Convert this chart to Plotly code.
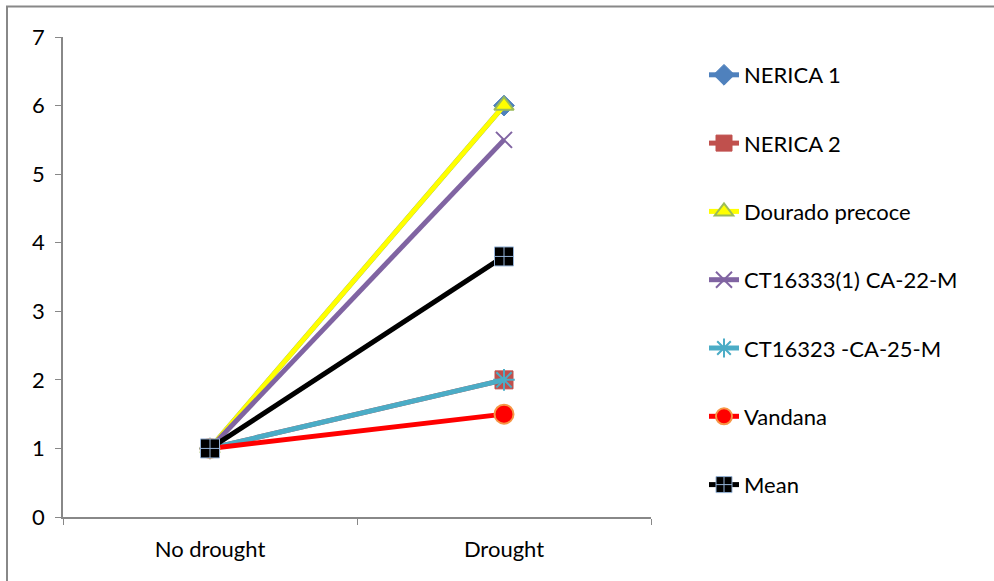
import plotly.graph_objects as go

categories = ["No drought", "Drought"]
series_names = ["NERICA 1", "NERICA 2", "Dourado precoce", "CT16333(1) CA-22-M",
                "CT16323 -CA-25-M", "Vandana", "Mean"]
nerica1 = [1, 6]
nerica2 = [1, 2]
dourado = [1, 6]
ct16333 = [1, 5.5]
ct16323 = [1, 2]
vandana = [1, 1.5]
mean = [1, 3.8]
y_ticks = [0, 1, 2, 3, 4, 5, 6, 7]

values = [nerica1, nerica2, dourado, ct16333, ct16323, vandana, mean]
line_colors = ["#4F81BD", "#C0504D", "#FFFF00", "#8064A2", "#4BACC6", "#FF0000", "#000000"]
markers = [
    dict(symbol="diamond", size=16, color="#4F81BD", line=dict(color="#4F81BD", width=1)),
    dict(symbol="square", size=18, color="#C0504D", line=dict(color="#C0504D", width=1)),
    dict(symbol="triangle-up", size=17, color="#FFFF00", line=dict(color="#9BBB59", width=2)),
    dict(symbol="x-thin-open", size=16, color="#8064A2", line=dict(color="#8064A2", width=2)),
    dict(symbol="asterisk-open", size=18, color="#4BACC6", line=dict(color="#4BACC6", width=2)),
    dict(symbol="circle", size=19, color="#FF0000", line=dict(color="#F79646", width=2)),
    dict(symbol="square-cross", size=19, color="#000000", line=dict(color="#95B3D7", width=1)),
]

FONT = "Lato, 'Open Sans', sans-serif"

fig = go.Figure()
for i, (name, vals) in enumerate(zip(series_names, values)):
    fig.add_trace(go.Scatter(
        x=categories, y=vals, name=name, mode="lines+markers",
        line=dict(color=line_colors[i], width=5),
        marker=markers[i], legendgroup=f"g{i}",
    ))

# plot area: x 63..651, y 37..517
L, R, T, B = 63, 994 - 651, 37, 581 - 517
pw, ph = 651 - 63, 517 - 37

def px_x(p):
    return (p - L) / pw

def px_y(p):
    return (517 - p) / ph

fig.update_layout(
    width=994, height=581,
    margin=dict(l=L, r=R, t=T, b=B),
    plot_bgcolor="white", paper_bgcolor="white",
    font=dict(family=FONT, size=22, color="#000000"),
    showlegend=True,
    legend=dict(
        x=px_x(704), y=px_y(54), xanchor="left", yanchor="top",
        font=dict(family=FONT, size=22, color="#000000"),
        tracegroupgap=36.7, bgcolor="rgba(0,0,0,0)",
    ),
    xaxis=dict(
        type="category", range=[-0.5, 1.5], showgrid=False,
        showline=True, linecolor="#888888", linewidth=1.5,
        ticks="outside", ticklen=6, tickcolor="#888888", tickson="boundaries",
        tickfont=dict(family=FONT, size=22), ticklabelstandoff=12,
    ),
    yaxis=dict(
        range=[0, 7], tickvals=y_ticks, showgrid=False, zeroline=False,
        showline=True, linecolor="#888888", linewidth=1.5,
        ticks="outside", ticklen=6, tickcolor="#888888",
        tickfont=dict(family=FONT, size=22), ticklabelstandoff=6,
    ),
    shapes=[dict(
        type="rect", xref="paper", yref="paper",
        x0=px_x(7), x1=px_x(1010), y0=px_y(600), y1=px_y(6.5),
        line=dict(color="#888888", width=2), fillcolor="rgba(0,0,0,0)",
        layer="below",
    )],
)

fig.write_html("out.html")
